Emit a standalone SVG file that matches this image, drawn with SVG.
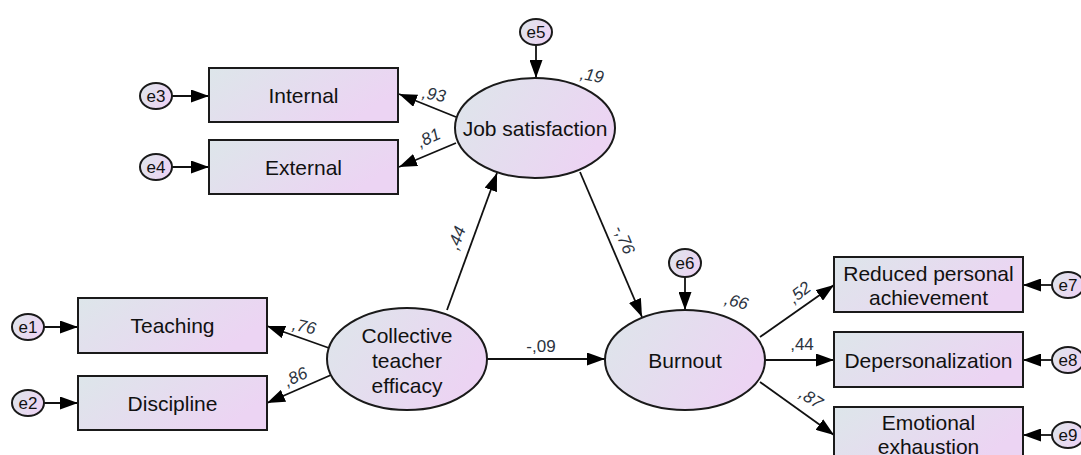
<svg xmlns="http://www.w3.org/2000/svg" width="1081" height="455" viewBox="0 0 1081 455">
<defs>
<linearGradient id="g" x1="0" y1="0" x2="1" y2="0.4">
<stop offset="0" stop-color="#dde6ea"/>
<stop offset="1" stop-color="#ecd4f3"/>
</linearGradient>
<marker id="ah" markerUnits="userSpaceOnUse" markerWidth="19" markerHeight="13" refX="18" refY="6.5" orient="auto">
<path d="M0,0 L18,6.5 L0,13 Z" fill="#000"/>
</marker>
<style>
.n{fill:url(#g);stroke:#1a1a1a;stroke-width:2}
.t{font-family:"Liberation Sans",Arial,sans-serif;font-size:21px;fill:#111;text-anchor:middle}
.et{font-family:"Liberation Sans",Arial,sans-serif;font-size:17px;fill:#111;text-anchor:middle}
.c{font-family:"Liberation Sans",Arial,sans-serif;font-size:17px;fill:#2b3340;text-anchor:middle;font-style:italic}
.l{stroke:#111;stroke-width:1.8;fill:none;marker-end:url(#ah)}
</style>
</defs>
<rect width="1081" height="455" fill="#fff"/>
<g id="connectors">
<line class="l" x1="172" y1="96" x2="209" y2="96"/>
<line class="l" x1="172" y1="167" x2="209" y2="167"/>
<line class="l" x1="44" y1="327" x2="78" y2="327"/>
<line class="l" x1="44" y1="403" x2="78" y2="403"/>
<line class="l" x1="536" y1="45" x2="536" y2="78"/>
<line class="l" x1="685" y1="277" x2="685" y2="310"/>
<line class="l" x1="1052" y1="285" x2="1023" y2="285"/>
<line class="l" x1="1052" y1="360" x2="1023" y2="360"/>
<line class="l" x1="1052" y1="435" x2="1023" y2="435"/>
<line class="l" x1="456" y1="117" x2="399" y2="94"/>
<line class="l" x1="456" y1="143" x2="399" y2="167"/>
<line class="l" x1="329" y1="348" x2="267" y2="326"/>
<line class="l" x1="331" y1="375" x2="267" y2="403"/>
<line class="l" x1="447" y1="310" x2="497" y2="173"/>
<line class="l" x1="580" y1="172" x2="642" y2="317"/>
<line class="l" x1="487" y1="359" x2="605" y2="359"/>
<line class="l" x1="760" y1="337" x2="834" y2="285"/>
<line class="l" x1="765" y1="360" x2="834" y2="360"/>
<line class="l" x1="760" y1="382" x2="834" y2="435"/>
<text class="c" transform="translate(433,100) rotate(10)">,93</text>
<text class="c" transform="translate(431,143) rotate(-25)">,81</text>
<text class="c" transform="translate(591,81) rotate(10)">,19</text>
<text class="c" transform="translate(303,332) rotate(12)">,76</text>
<text class="c" transform="translate(298,382) rotate(-25)">,86</text>
<text class="c" transform="translate(462,240) rotate(-70)">,44</text>
<text class="c" transform="translate(619,242) rotate(67)">-,76</text>
<text class="c" style="font-style:normal" x="541" y="352">-,09</text>
<text class="c" transform="translate(735,307) rotate(15)">,66</text>
<text class="c" transform="translate(803,297) rotate(-38)">,52</text>
<text class="c" style="font-style:normal" x="802" y="350">,44</text>
<text class="c" transform="translate(808,403) rotate(33)">,87</text>
</g>
<g id="Internal"><rect class="n" x="209" y="68" width="189" height="54"/><text class="t" x="303.5" y="102.5">Internal</text></g>
<g id="External"><rect class="n" x="209" y="140" width="189" height="54"/><text class="t" x="303.5" y="174.5">External</text></g>
<g id="Teaching"><rect class="n" x="78" y="298" width="189" height="55"/><text class="t" x="172.5" y="333">Teaching</text></g>
<g id="Discipline"><rect class="n" x="78" y="376" width="189" height="54"/><text class="t" x="172.5" y="410.5">Discipline</text></g>
<g id="ReducedPersonalAchievement"><rect class="n" x="834" y="257" width="189" height="55"/><text class="t" x="928.5" y="280.5">Reduced personal</text><text class="t" x="928.5" y="304.5">achievement</text></g>
<g id="Depersonalization"><rect class="n" x="834" y="332" width="189" height="55"/><text class="t" x="928.5" y="367.5">Depersonalization</text></g>
<g id="EmotionalExhaustion"><rect class="n" x="834" y="407" width="189" height="55"/><text class="t" x="928.5" y="429.5">Emotional</text><text class="t" x="928.5" y="453.5">exhaustion</text></g>
<g id="JobSatisfaction"><ellipse class="n" cx="535" cy="128" rx="80" ry="50"/><text class="t" x="535" y="135.5">Job satisfaction</text></g>
<g id="CollectiveTeacherEfficacy"><ellipse class="n" cx="407" cy="359" rx="80" ry="51"/><text class="t" x="407" y="342.5">Collective</text><text class="t" x="407" y="367.5">teacher</text><text class="t" x="407" y="392.5">efficacy</text></g>
<g id="Burnout"><ellipse class="n" cx="685" cy="360" rx="80" ry="50"/><text class="t" x="685" y="367.5">Burnout</text></g>
<g id="e1"><ellipse class="n" cx="28" cy="327" rx="16" ry="13"/><text class="et" x="28" y="333">e1</text></g>
<g id="e2"><ellipse class="n" cx="28" cy="403" rx="16" ry="13"/><text class="et" x="28" y="409">e2</text></g>
<g id="e3"><ellipse class="n" cx="156" cy="96" rx="16" ry="13"/><text class="et" x="156" y="102">e3</text></g>
<g id="e4"><ellipse class="n" cx="156" cy="167" rx="16" ry="13"/><text class="et" x="156" y="173">e4</text></g>
<g id="e5"><ellipse class="n" cx="536" cy="32" rx="16" ry="13"/><text class="et" x="536" y="38">e5</text></g>
<g id="e6"><ellipse class="n" cx="685" cy="263" rx="16" ry="14"/><text class="et" x="685" y="269">e6</text></g>
<g id="e7"><ellipse class="n" cx="1068" cy="285" rx="16" ry="13"/><text class="et" x="1068" y="291">e7</text></g>
<g id="e8"><ellipse class="n" cx="1068" cy="360" rx="16" ry="13"/><text class="et" x="1068" y="366">e8</text></g>
<g id="e9"><ellipse class="n" cx="1068" cy="435" rx="16" ry="13"/><text class="et" x="1068" y="441">e9</text></g>
</svg>
